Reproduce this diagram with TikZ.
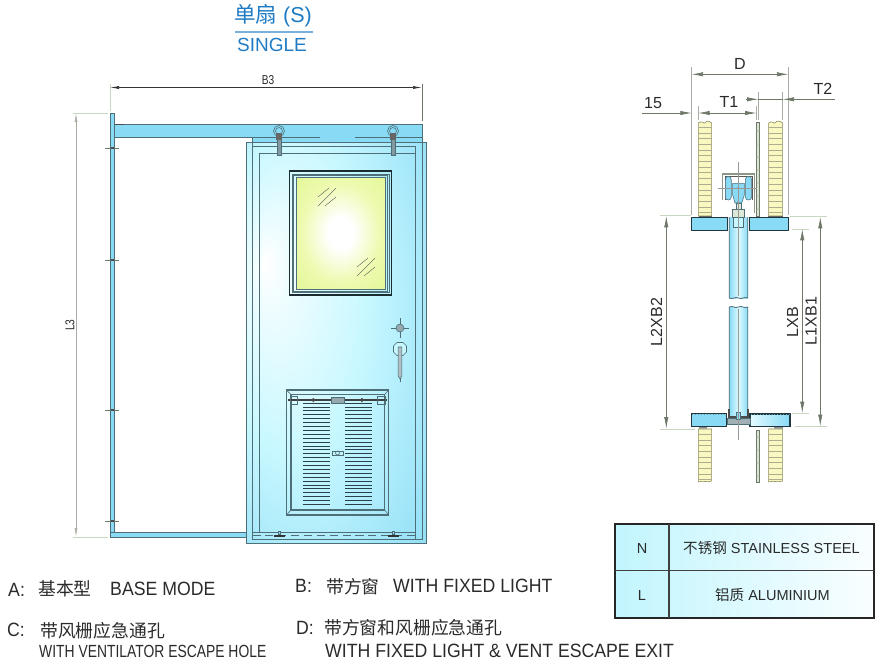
\documentclass[tikz,border=0pt]{standalone}
\usepackage{fontspec}
\usetikzlibrary{arrows.meta}
\setmainfont{Liberation Sans}
\newfontfamily\narrowfont[FakeStretch=.92]{Liberation Sans}
\newfontfamily\tightfont[FakeStretch=.79]{Liberation Sans}
\newfontfamily\cjk{Noto Sans CJK SC}
\definecolor{doorblue}{HTML}{88DAF5}
\definecolor{doorpale}{HTML}{C8F8FF}
\definecolor{glassedge}{HTML}{DDF68C}
\definecolor{glassmid}{HTML}{EEFAB0}
\definecolor{strokegrey}{HTML}{4E6E78}
\definecolor{dimgrey}{HTML}{6E7868}
\definecolor{palegreen}{HTML}{C8D8C0}
\definecolor{panelyellow}{HTML}{F8F8C0}
\definecolor{panelline}{HTML}{8A8A60}
\definecolor{titleblue}{HTML}{1F7CC4}
\definecolor{textgrey}{HTML}{2A2A2A}
\pgfdeclareradialshading{doorglow}{\pgfpoint{-20bp}{10bp}}{color(0bp)=(white);color(5bp)=(white!70!doorpale);color(20bp)=(doorpale);color(44bp)=(doorblue);color(50bp)=(doorblue)}
\pgfdeclareradialshading{glassglow}{\pgfpoint{0bp}{0bp}}{color(0bp)=(white);color(7bp)=(white);color(22bp)=(glassmid);color(42bp)=(glassedge);color(50bp)=(glassedge)}
\tikzset{
  part/.style={draw=strokegrey, line width=.7pt},
  wallpart/.style={draw=panelline, line width=.5pt, fill=panelyellow},
  plate/.style={draw=black!75!doorblue, line width=.9pt, fill=doorblue},
  rib/.style={draw=panelline!70, line width=.3pt},
  dimline/.style={draw=dimgrey, line width=.6pt},
  extline/.style={draw=palegreen, line width=.8pt},
  dimtext/.style={text=textgrey, font=\fontsize{13.7}{15}\selectfont, inner sep=0pt},
  smalldim/.style={text=textgrey, font=\tightfont\fontsize{11}{12}\selectfont, inner sep=0pt},
  caption/.style={text=textgrey, font=\narrowfont\fontsize{16.4}{18}\selectfont, anchor=west, inner sep=0pt},
  cjkcap/.style={text=textgrey, font=\cjk\fontsize{15.2}{18}\selectfont, anchor=west, inner sep=0pt},
  cell/.style={text=textgrey, font=\fontsize{12.4}{15}\selectfont, inner sep=0pt}
}
\begin{document}
\begin{tikzpicture}[x=.03cm,y=-.03cm,
    >={Latex[length=.34cm,width=.13cm]}]
\useasboundingbox (0,0) rectangle (883,663);

% Title
  \node[text=titleblue, inner sep=0pt, font=\fontsize{18.4}{20}\selectfont] (titlecn) at (273,16) {{\cjk 单扇} (S)};
  \node[text=titleblue, inner sep=0pt, font=\fontsize{16.2}{18}\selectfont] (titleen) at (272,45) {SINGLE};
  \draw[draw=titleblue!60, line width=.9pt] (235,32) -- (313,32);

% Front view
% Jamb and track
  \filldraw[part, fill=doorblue] (110,113) rectangle (114.7,537);
  \filldraw[part, fill=doorblue] (114.7,124) rectangle (422.5,137);
  \filldraw[part, fill=doorblue] (110,532.3) rectangle (252,537.3);
  \draw[draw=black!70, line width=.8pt] (115,124) -- (124,124);
  \foreach \y in {148,260,410,521} {
    \draw[draw=dimgrey, line width=.5pt] (105,\y) -- (119,\y);
    \fill[black!70] (110.5,\y-1) rectangle (114,\y+1);
  }

% Door leaf and frame lines
  \shade[shading=doorglow] (246,142) rectangle (426.7,543.3);
  \draw[part, line width=.55pt] (246,142) rectangle (426.7,543.3);
  \fill[doorblue] (252.3,137) rectangle (422.7,142);
  \draw[part] (320,137) -- (252.3,137) -- (252.3,539.3) -- (422.7,539.3) -- (422.7,137) -- (355,137);
  \draw[part] (252.3,146) -- (415.7,146) -- (415.7,539.3);
  \draw[part] (259.3,532.3) -- (259.3,153) -- (415.7,153);
  \draw[part] (252.3,532.3) -- (415.7,532.3);
  \draw[draw=strokegrey, dash pattern=on 7pt off 4pt, line width=.6pt] (252.3,535) -- (415.7,535);

% Hangers and floor guides
  \foreach \x in {279,393} {
    \draw[part, line width=.5pt] (\x,131) circle (5.5);
    \draw[part, line width=.5pt] (\x,131) circle (3.5);
    \filldraw[part, fill=strokegrey!70] (\x-2,134) rectangle (\x+2,155);
    \fill[black!60] (\x-3,133) rectangle (\x+3,140);
    \fill[black!80] (\x-5.5,534.5) rectangle (\x+5.5,536.8);
    \filldraw[part, fill=doorblue, line width=.5pt] (\x-1.2,531) rectangle (\x+1.2,534.5);
  }

% Window
  \draw[draw=black!80!doorblue, line width=1pt] (289.5,171) rectangle (391.5,295);
  \draw[part, line width=.4pt] (292,174) rectangle (389,292.5);
  \draw[part, line width=.4pt] (293.5,175.5) rectangle (387.5,291);
  \shade[shading=glassglow] (296,177) rectangle (385.5,289);
  \draw[part, line width=.5pt] (296,177) rectangle (385.5,289);
  \draw[draw=black!70, line width=.3pt] (318,197) -- (329,188) (318,206) -- (336,188) (325,206) -- (336,197);
  \draw[draw=black!70, line width=.3pt] (357,267) -- (368,258) (357,276) -- (375,258) (364,276) -- (375,267);

% Lock and handle
  \draw[part, line width=.5pt] (391,328) -- (409,328) (400,318) -- (400,338);
  \filldraw[part, fill=strokegrey!60, line width=.5pt] (400,328) circle (4);
  \filldraw[part, fill=doorpale, line width=.5pt] (397,342.5) -- (403,342.5) -- (406.5,346) -- (406.5,352) -- (403,355.5) -- (397,355.5) -- (393.5,352) -- (393.5,346) -- cycle;
  \filldraw[part, fill=strokegrey!45, line width=.5pt] (398.2,347) -- (401.8,347) -- (401.8,376) -- (400,379) -- (398.2,376) -- cycle;
  \draw[part, line width=.5pt] (400,378) -- (400,382);

% Ventilator
  \draw[part, line width=.9pt] (286.3,390) rectangle (388.7,515);
  \draw[part, line width=.9pt] (291,394.5) rectangle (384.7,510);
  \draw[part, line width=1.4pt] (291,510) -- (384.7,510);
  \draw[part, line width=.5pt] (286.3,390) -- (291,394.5) (388.7,390) -- (384.7,394.5) (286.3,515) -- (291,510) (388.7,515) -- (384.7,510);
  \draw[draw=black!75, line width=1pt] (288,400) -- (387,400);
  \draw[part, line width=.6pt] (290,396.5) rectangle (297,404) (377.5,396.5) rectangle (385,404);
  \filldraw[part, fill=strokegrey!60, line width=.5pt] (331,397) rectangle (344,403);
  \fill[black!70] (312.5,398) rectangle (314,402) (361,398) rectangle (362.5,402);
  \foreach \n in {0,...,26} {
    \draw[draw=black!70!doorblue, line width=.55pt] (302.5,403+3.9*\n) -- (329.5,403+3.9*\n);
    \draw[draw=black!70!doorblue, line width=.55pt] (345,403+3.9*\n) -- (372,403+3.9*\n);
  }
  \draw[part, line width=.5pt] (332,451) rectangle (343,455);
  \draw[part, line width=.5pt] (337.5,453) circle (2);

% Width and height dimensions
  \coordinate (bleft) at (110,87.5);
  \coordinate (bright) at (422,87.5);
  \coordinate (hTop) at (76,113);
  \coordinate (hBottom) at (76,537);
  \draw[extline] (110,84) -- (110,111) (73,113) -- (108,113) (73,537) -- (108,537);
  \draw[dimline, line width=.4pt] (422,84) -- (422,121);
  \draw[dimline, {Latex[length=.27cm,width=.09cm]}-{Latex[length=.27cm,width=.09cm]}, black!80] (bleft) -- (bright);
  \draw[dimline, draw=dimgrey!60, {Latex[length=.27cm,width=.09cm]}-{Latex[length=.27cm,width=.09cm]}] (hTop) -- (hBottom);
  \node[smalldim] (bthree) at (268,80) {B3};
  \node[smalldim, rotate=90] (lthree) at (70,325) {L3};

% Section view
% Wall panels, top
  \filldraw[wallpart] (698.3,123) .. controls (702,120) and (704,124) .. (705,123) .. controls (707,120) and (710,121) .. (711.7,123) -- (711.7,216) -- (698.3,216) -- cycle;
  \foreach \y in {127,132.7,...,214} {
    \draw[rib] (698.3,\y) -- (711.7,\y);
  }
  \filldraw[wallpart] (768.7,123) .. controls (772,120) and (774,124) .. (775,123) .. controls (777,120) and (780,121) .. (782.7,123) -- (782.7,216) -- (768.7,216) -- cycle;
  \foreach \y in {127,132.7,...,214} {
    \draw[rib] (768.7,\y) -- (782.7,\y);
  }
  \filldraw[draw=dimgrey, line width=.4pt, fill=palegreen!70] (756.3,122) rectangle (759.7,216);
  \foreach \y in {130,143,...,212} {
    \draw[rib] (756.3,\y+2) -- (759.7,\y);
  }

% Wall panels, bottom
  \filldraw[wallpart] (698.3,429) -- (711.7,429) -- (711.7,481) .. controls (708,483) and (703,480) .. (698.3,482) -- cycle;
  \foreach \y in {434,439.7,...,480} {
    \draw[rib] (698.3,\y) -- (711.7,\y);
  }
  \filldraw[wallpart] (768.7,429) -- (782.7,429) -- (782.7,481) .. controls (778,483) and (773,480) .. (768.7,482) -- cycle;
  \foreach \y in {434,439.7,...,480} {
    \draw[rib] (768.7,\y) -- (782.7,\y);
  }
  \filldraw[draw=dimgrey, line width=.4pt, fill=palegreen!70] (756.3,430) rectangle (759.7,482);
  \foreach \y in {436,449,...,478} {
    \draw[rib] (756.3,\y+2) -- (759.7,\y);
  }

% Door leaf between the plates
  \shade[left color=doorblue, right color=doorblue, middle color=doorpale!60!white] (729.3,217) rectangle (747.7,298);
  \shade[left color=doorblue, right color=doorblue, middle color=doorpale!60!white] (729.3,307) rectangle (747.7,419);
  \draw[part, line width=.7pt] (729.3,217) -- (729.3,298) .. controls (733,300) and (735,296) .. (738.5,298) .. controls (742,300) and (744,296) .. (747.7,298) -- (747.7,217);
  \draw[part, line width=.7pt] (729.3,419) -- (729.3,307) .. controls (733,305) and (735,309) .. (738.5,307) .. controls (742,305) and (744,309) .. (747.7,307) -- (747.7,419);

% Hanger carriage
  \draw[draw=palegreen!70!black, line width=.9pt] (722.3,200) -- (722.3,174) -- (754.3,174) -- (754.3,213);
  \draw[draw=black!65, line width=.5pt] (725,200) -- (725,176.5) -- (752.5,176.5) -- (752.5,200);
  \filldraw[part, line width=.5pt, fill=doorblue] (725.3,180) .. controls (725.3,175) and (731.3,175) .. (731.3,180) -- (731.3,197) .. controls (731.3,201) and (725.3,201) .. (725.3,197) -- cycle;
  \filldraw[part, line width=.5pt, fill=doorblue] (745.3,180) .. controls (745.3,175) and (751.7,175) .. (751.7,180) -- (751.7,197) .. controls (751.7,201) and (745.3,201) .. (745.3,197) -- cycle;
  \filldraw[part, line width=.5pt, fill=doorblue] (732.7,183.3) -- (744.3,183.3) -- (744.3,195) -- (741.7,203) -- (735,203) -- (732.7,195) -- cycle;
  \fill[black!70] (738.3,188) circle (1) (738.3,202) circle (1);
  \filldraw[part, line width=.5pt, fill=palegreen!60] (736,203) rectangle (741,209);
  \filldraw[part, line width=.6pt, fill=palegreen!60] (732.7,209) rectangle (744,217);
  \filldraw[part, line width=.6pt, fill=doorpale] (733.5,217) rectangle (743.5,227);

% Base plates and channel
  \filldraw[plate] (691.7,217.3) rectangle (727.3,230.7);
  \filldraw[plate] (749.3,217.3) rectangle (788.7,230.7);
  \draw[draw=black!60, line width=.8pt] (699,216) -- (712,216) (768,216) -- (783,216);
  \filldraw[plate] (691.3,413.5) rectangle (726.7,426.5);
  \filldraw[plate, left color=doorpale!50!white, right color=doorblue] (750,414) rectangle (790,426.5);
  \draw[draw=doorblue!70!black, dotted, line width=.5pt] (692,414) -- (726,414) (751,414.5) -- (790,414.5);
  \fill[black!45] (699,427) rectangle (707,428.5) (774,427) rectangle (783,428.5);
  \filldraw[part, fill=strokegrey!55, line width=.6pt] (727,418) rectangle (750,424.5);
  \draw[draw=black!70, line width=.9pt] (729,409) -- (729,417) -- (748,417) -- (748,409);
  \filldraw[part, line width=.5pt, fill=doorblue] (736.3,412.5) rectangle (740.7,419);
  \draw[draw=black!30, line width=.4pt, dotted] (728,421) -- (750,421);
  \draw[draw=black!40, line width=.35pt] (738.3,162) -- (738.3,296) (738.3,309) -- (738.3,440);
  \draw[draw=black!40, line width=.35pt] (718,188) -- (757,188);

% Section dimensions
  \coordinate (dleft) at (691.7,74.3);
  \coordinate (dright) at (788.3,74.3);
  \coordinate (ttwoin) at (758.4,99.3);
  \coordinate (ttwoout) at (782.7,99.3);
  \coordinate (ttwofree) at (746,99.3);
  \coordinate (ttwoend) at (835,99.3);
  \coordinate (fifteenfree) at (642,113);
  \coordinate (fifteen) at (691.7,113);
  \coordinate (toneleft) at (698.3,113);
  \coordinate (toneright) at (756.5,113);
  \draw[dimline, draw=dimgrey!60] (691.7,67) -- (691.7,215) (788.3,67) -- (788.3,215);
  \draw[dimline, draw=dimgrey!60] (758.4,92) -- (758.4,120) (782.7,92) -- (782.7,120) (698.3,106) -- (698.3,120) (756.5,106) -- (756.5,120);
  \draw[dimline, <->] (dleft) -- (dright);
  \draw[dimline, ->] (ttwofree) -- (ttwoin);
  \draw[dimline, ->] (ttwoend) -- (ttwoout);
  \draw[dimline] (ttwoin) -- (ttwoout);
  \draw[dimline, ->] (fifteenfree) -- (fifteen);
  \draw[dimline, <->] (toneleft) -- (toneright);
  \node[dimtext] (dlabel) at (740,64) {D};
  \node[dimtext] (tone) at (729,102) {T1};
  \node[dimtext] (ttwo) at (823,89) {T2};
  \node[dimtext] (fifteenlabel) at (653,103) {15};

  \coordinate (ltwotop) at (666.3,216);
  \coordinate (ltwobottom) at (666.3,428.5);
  \coordinate (lxbtop) at (802.3,229);
  \coordinate (lxbbottom) at (802.3,413);
  \coordinate (lonetop) at (820.3,217);
  \coordinate (lonebottom) at (820.3,426);
  \draw[extline] (660,215.5) -- (691,215.5) (660,429) -- (695,429) (792,229) -- (809,229) (792,413) -- (809,413);
  \draw[extline] (790,216.7) -- (827,216.7) (795,426) -- (827,426);
  \draw[dimline, <->] (ltwotop) -- (ltwobottom);
  \draw[dimline, <->] (lxbtop) -- (lxbbottom);
  \draw[dimline, <->] (lonetop) -- (lonebottom);
  \node[dimtext, rotate=90] (ltwolabel) at (656.5,322) {L2XB2};
  \node[dimtext, rotate=90] (lxblabel) at (792.5,322) {LXB};
  \node[dimtext, rotate=90] (lonelabel) at (811,321) {L1XB1};

% Material table
  \shade[left color=doorpale!90!doorblue, right color=doorpale!10!white] (615,524) rectangle (874,618);
  \draw[draw=black!85, line width=1.3pt] (615,524) rectangle (874,618);
  \draw[draw=black!75, line width=.9pt] (615,570.5) -- (874,570.5) (669,524) -- (669,618);
  \node[cell] (rowN) at (642,548) {N};
  \node[cell] (rowL) at (642,595) {L};
  \node[cell] (stainless) at (771.5,548) {{\cjk 不锈钢} STAINLESS STEEL};
  \node[cell] (aluminium) at (772.5,595) {{\cjk 铝质} ALUMINIUM};

% Type captions
  \node[caption] (typeA) at (8,590) {A:};
  \node[cjkcap] (typeAcn) at (38,589) {基本型};
  \node[caption] (typeAen) at (110,589) {BASE MODE};
  \node[caption] (typeB) at (295,586) {B:};
  \node[cjkcap] (typeBcn) at (326,587) {带方窗};
  \node[caption] (typeBen) at (393,586) {WITH FIXED LIGHT};
  \node[caption] (typeC) at (7,630) {C:};
  \node[cjkcap] (typeCcn) at (40,631) {带风栅应急通孔};
  \node[caption, font=\tightfont\fontsize{15}{18}\selectfont] (typeCen) at (39,651) {WITH VENTILATOR ESCAPE HOLE};
  \node[caption] (typeD) at (296,628) {D:};
  \node[cjkcap] (typeDcn) at (324,628) {带方窗和风栅应急通孔};
  \node[caption] (typeDen) at (325,651) {WITH FIXED LIGHT \& VENT ESCAPE EXIT};
\end{tikzpicture}
\end{document}
